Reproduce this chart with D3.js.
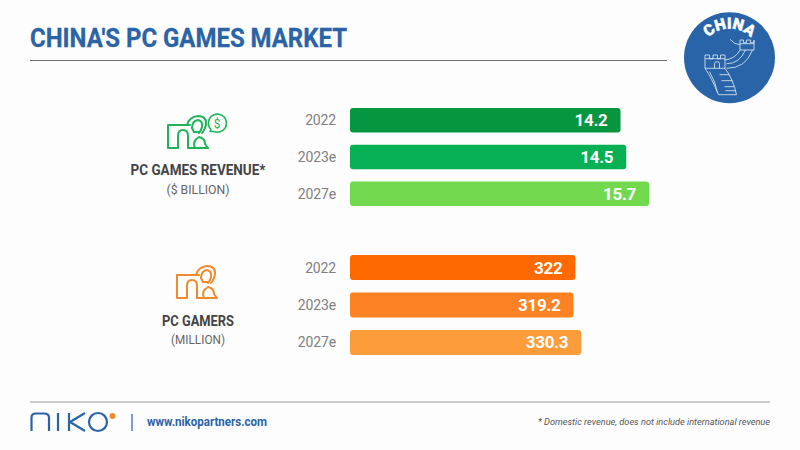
<!DOCTYPE html>
<html>
<head>
<meta charset="utf-8">
<script src="https://cdn.jsdelivr.net/npm/d3@7"></script>
<style>
  html, body { margin: 0; padding: 0; background: #fdfdfd; }
  svg { display: block; }
  text { font-family: Roboto, "Liberation Sans", sans-serif; }
</style>
</head>
<body>
<div id="chart"></div>
<script>
var categories = ["2022", "2023e", "2027e"];
var revenueValues = [14.2, 14.5, 15.7];
var revenueLabels = ["14.2", "14.5", "15.7"];
var revenueColors = ["#05963f", "#07b052", "#72d84d"];
var gamerValues = [322, 319.2, 330.3];
var gamerLabels = ["322", "319.2", "330.3"];
var gamerColors = ["#ff6a00", "#fd8224", "#fc9c3a"];

var width = 800, height = 450;
var svg = d3.select("#chart").append("svg")
    .attr("width", width)
    .attr("height", height);

svg.append("rect").attr("width", width).attr("height", height).attr("fill", "#fdfdfd");

// title and rules
svg.append("text")
    .attr("x", 30).attr("y", 47)
    .attr("font-size", 25.5).attr("font-weight", 700)
    .attr("fill", "#2a63a6").attr("stroke", "#2a63a6").attr("stroke-width", 0.3)
    .attr("textLength", 317).attr("lengthAdjust", "spacingAndGlyphs")
    .text("CHINA'S PC GAMES MARKET");

svg.append("line").attr("x1", 30).attr("x2", 667).attr("y1", 60.5).attr("y2", 60.5)
    .attr("stroke", "#6f6f6f").attr("stroke-width", 1);
svg.append("line").attr("x1", 30).attr("x2", 770).attr("y1", 402).attr("y2", 402)
    .attr("stroke", "#9a9a9a").attr("stroke-width", 1.2);

/**
 * Draws one block of three bars with its year labels
 */
function drawBars(values, labels, colors, pxPerUnit, top, bottom) {
    var x = d3.scaleLinear().domain([0, 1]).range([350, 350 + pxPerUnit]);
    var y = d3.scaleBand().domain(categories).range([top, bottom]).paddingInner(0.33);
    var g = svg.append("g");

    g.selectAll("rect").data(values).enter().append("rect")
        .attr("x", x(0))
        .attr("y", function(d, i) { return y(categories[i]); })
        .attr("width", function(d) { return x(d) - x(0); })
        .attr("height", y.bandwidth())
        .attr("rx", 3)
        .attr("fill", function(d, i) { return colors[i]; });

    g.selectAll("text.value").data(values).enter().append("text")
        .attr("class", "value")
        .attr("x", function(d) { return x(d) - 13; })
        .attr("y", function(d, i) { return y(categories[i]) + y.bandwidth() / 2 + 6; })
        .attr("text-anchor", "end")
        .attr("font-size", 17).attr("font-weight", 700)
        .attr("letter-spacing", -0.3)
        .attr("fill", "#ffffff")
        .text(function(d, i) { return labels[i]; });

    g.selectAll("text.year").data(categories).enter().append("text")
        .attr("class", "year")
        .attr("x", 336)
        .attr("y", function(d) { return y(d) + y.bandwidth() / 2 + 5; })
        .attr("text-anchor", "end")
        .attr("font-size", 14)
        .attr("letter-spacing", -0.15)
        .attr("fill", "#808080")
        .text(function(d) { return d; });
}

drawBars(revenueValues, revenueLabels, revenueColors, 19.05, 108, 206);
drawBars(gamerValues, gamerLabels, gamerColors, 0.7, 255, 355);

// side labels
function sideLabel(cx, y1, y2, t1, t2, w1, w2) {
    svg.append("text").attr("x", cx).attr("y", y1).attr("text-anchor", "middle")
        .attr("font-size", 14.5).attr("font-weight", 700).attr("fill", "#444444")
        .attr("textLength", w1).attr("lengthAdjust", "spacingAndGlyphs").text(t1);
    svg.append("text").attr("x", cx).attr("y", y2).attr("text-anchor", "middle")
        .attr("font-size", 13).attr("fill", "#666666")
        .attr("textLength", w2).attr("lengthAdjust", "spacingAndGlyphs").text(t2);
}
sideLabel(198, 175, 194, "PC GAMES REVENUE*", "($ BILLION)", 135, 63);
sideLabel(198, 326, 344, "PC GAMERS", "(MILLION)", 72, 54);

// gamer icon: screen, headset and figure
function gamerIcon(tx, ty, color) {
    var g = svg.append("g").attr("transform", "translate(" + tx + "," + ty + ")")
        .attr("fill", "none").attr("stroke", color).attr("stroke-width", 2)
        .attr("stroke-linejoin", "round").attr("stroke-linecap", "round");
    g.append("path").attr("d", "M22 0H0V23H10V11Q10 5 15 5Q20 5 20 11V23H40");
    g.append("path").attr("d", "M27 23Q24 16 31 12Q37 13 37 19L40 23");
    g.append("path").attr("d", "M19 0Q21 -8 30 -9Q38 -9 38 -2Q38 3 34 8");
    g.append("path").attr("d", "M24 3Q24 -4 30 -5Q35 -4 34 2Q33 6 31 8");
    g.append("path").attr("d", "M24 3L26 7H31");
    return g;
}
gamerIcon(168, 125, "#1fb35a");
gamerIcon(177, 275, "#f08a2c");

// dollar bubble next to the revenue icon
var bubble = svg.append("g").attr("transform", "translate(217,123)");
bubble.append("path")
    .attr("d", "M-6 6.5A9 9 0 1 1 -3 8.5L-7 8.5Z")
    .attr("fill", "none").attr("stroke", "#1fb35a").attr("stroke-width", 1.6)
    .attr("stroke-linejoin", "round");
bubble.append("text").attr("y", 4.5).attr("text-anchor", "middle").attr("font-size", 12)
    .attr("fill", "#1fb35a").text("$");

// badge
var badge = svg.append("g").attr("transform", "translate(729.5,57.7)");
badge.append("circle").attr("r", 45.5).attr("fill", "#2a64a8");
svg.append("defs").append("path").attr("id", "badgeArc")
    .attr("d", "M-27 -12A30 30 0 0 1 27 -12");
badge.append("text").attr("font-size", 15.5).attr("font-weight", 900)
    .attr("fill", "#ffffff").attr("stroke", "#ffffff").attr("stroke-width", 0.4)
    .attr("text-anchor", "middle")
    .append("textPath").attr("href", "#badgeArc").attr("startOffset", "50%").text("CHINA");

var wall = badge.append("g").attr("fill", "none").attr("stroke", "#e4edf6").attr("stroke-width", 0.8);
// left tower
wall.append("path").attr("d", "M-24.5 10.6V-2.7H-20V1H-16.5V-2.7H-12V1H-9V-2.7H-4.5V10.6Z M-24.5 1H-4.5");
wall.append("path").attr("d", "M-10 10.6V6Q-10 4 -12.5 4Q-15 4 -15 6V10.6");
// lower wall
wall.append("path").attr("d", "M-24.5 10.6Q-18 20 -11 37M-20 14Q-14 24 -12 35M-4.5 10.6Q4 22 7 37M-11 37L7 37");
wall.append("path").attr("d", "M-10 17H0M-8 23H3M-5 29H5M-4 33H6");
// upper wall and far tower
wall.append("path").attr("d", "M-4.5 2.3Q6 1 10.5 -7.7M-3 10.6Q16 11 23 -7.7M-3 6Q10 6 16 -7.7");
wall.append("path").attr("d", "M10.5 -7.7V-17.7H14V-15H17V-17.7H21V-15H24.5V-17.7V-7.7Z M10.5 -14H24.5");
wall.append("path").attr("d", "M0.5 -18.4Q5 -13 10.5 -13");

// footer logo
var logo = svg.append("g").attr("fill", "none").attr("stroke", "#2a63a6").attr("stroke-width", 2.2);
logo.append("path").attr("d", "M31.5 431V417.5Q31.5 413.5 36 413.5H44Q49 413.5 49 417.5V431");
logo.append("path").attr("d", "M58 413V431M69 413V431M85 413L70 422L85 431");
logo.append("circle").attr("cx", 98).attr("cy", 422).attr("r", 9);
svg.append("circle").attr("cx", 112.5).attr("cy", 416).attr("r", 3).attr("fill", "#f08a2c");
svg.append("line").attr("x1", 132).attr("x2", 132).attr("y1", 414).attr("y2", 431)
    .attr("stroke", "#2a63a6").attr("stroke-width", 1.2);

svg.append("text").attr("x", 147).attr("y", 426)
    .attr("font-size", 12).attr("font-weight", 700).attr("fill", "#2a63a6")
    .attr("textLength", 120).attr("lengthAdjust", "spacingAndGlyphs")
    .text("www.nikopartners.com");

svg.append("text").attr("x", 770).attr("y", 425).attr("text-anchor", "end")
    .attr("font-size", 9.2).attr("font-style", "italic").attr("fill", "#555555")
    .text("* Domestic revenue, does not include international revenue");
</script>
</body>
</html>
